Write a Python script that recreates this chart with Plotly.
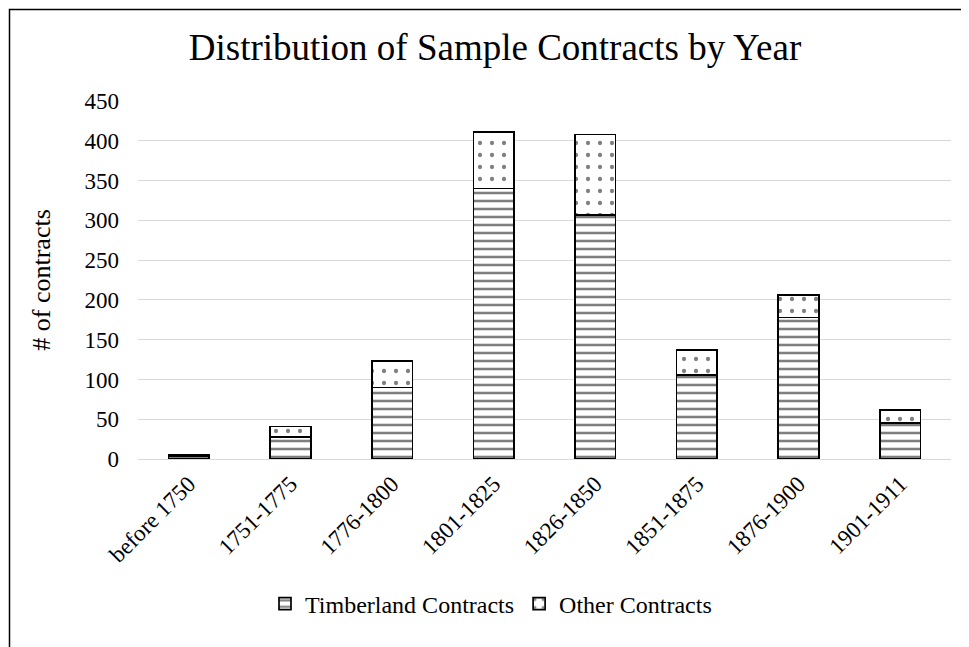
import plotly.graph_objects as go

categories = ["before 1750", "1751-1775", "1776-1800", "1801-1825",
              "1826-1850", "1851-1875", "1876-1900", "1901-1911"]
timberland = [4, 28, 90, 340, 307, 106, 178, 45]
other = [1, 13, 33, 71, 101, 31, 28, 17]
y_ticks = [0, 50, 100, 150, 200, 250, 300, 350, 400, 450]

FONT = "Liberation Serif, Times New Roman, serif"
OFF = 8  # page body margin

fig = go.Figure()
fig.add_trace(go.Bar(
    x=categories, y=timberland, name="Timberland Contracts",
    marker=dict(color="white", line=dict(color="black", width=1.7),
                pattern=dict(shape="-", size=8, solidity=0.32,
                             fgcolor="black", bgcolor="white", fillmode="overlay")),
    width=0.4,
))
fig.add_trace(go.Bar(
    x=categories, y=other, name="Other Contracts",
    marker=dict(color="white", line=dict(color="black", width=1.7),
                pattern=dict(shape=".", size=12, solidity=0.1,
                             fgcolor="black", bgcolor="white", fillmode="overlay")),
    width=0.4,
))

W, H = 969 - OFF, 647 - OFF
# plot area in screen pixels: x 138..951, y 101..459
L, T = 138 - OFF, 101 - OFF
pw, ph = 813, 358
R, B = W - L - pw, H - T - ph


def px_x(sx):
    return (sx - 138) / pw


def px_y(sy):
    return (459 - sy) / ph


fig.update_layout(
    barmode="stack",
    width=W, height=H,
    margin=dict(l=L, r=R, t=T, b=B, autoexpand=False),
    paper_bgcolor="white", plot_bgcolor="white",
    font=dict(family=FONT, size=23, color="black"),
    title=dict(text="Distribution of Sample Contracts by Year",
               x=(495 - OFF) / W, xanchor="center", xref="container",
               y=1 - (47 - OFF) / H, yanchor="middle", yref="container",
               font=dict(family=FONT, size=37, color="black")),
    showlegend=True,
    legend=dict(orientation="h", x=px_x(265), xanchor="left",
                y=px_y(604), yanchor="middle",
                font=dict(family=FONT, size=24, color="black"),
                traceorder="normal", itemwidth=30),
    xaxis=dict(tickangle=-45, showgrid=False, showline=False, ticks="",
               ticklabelstandoff=6,
               tickfont=dict(family=FONT, size=23, color="black")),
    yaxis=dict(range=[0, 450], tickvals=y_ticks, showgrid=True,
               gridcolor="#d9d9d9", gridwidth=1.3, zeroline=True,
               zerolinecolor="#d9d9d9", zerolinewidth=1.3, showline=False,
               ticks="", ticklabelstandoff=18,
               tickfont=dict(family=FONT, size=23, color="black"),
               title=dict(text="# of contracts", standoff=26,
                          font=dict(family=FONT, size=26, color="black"))),
)

# outer chart border (extends past right and bottom edges)
fig.add_shape(type="rect", xref="paper", yref="paper",
              x0=px_x(9.5), x1=px_x(969 + 30),
              y0=px_y(647 + 30), y1=px_y(9.5),
              line=dict(color="black", width=1.5), fillcolor="rgba(0,0,0,0)",
              layer="above")

fig.write_html("out.html")
